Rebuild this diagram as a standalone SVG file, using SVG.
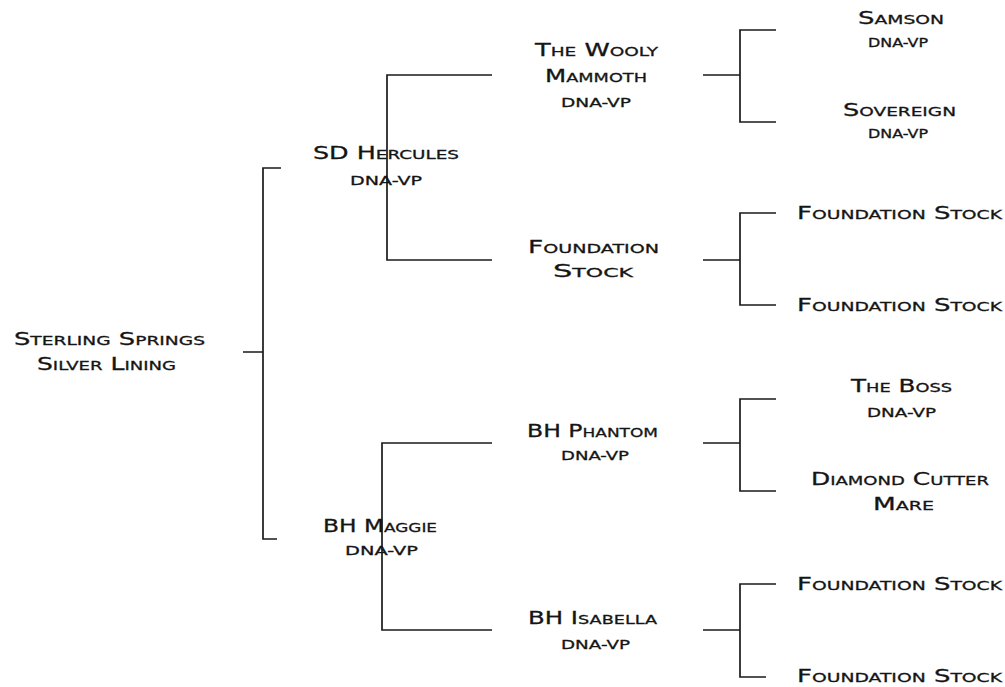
<svg xmlns="http://www.w3.org/2000/svg" width="1005" height="687" viewBox="0 0 1005 687">
<style>
.bg{fill:#ffffff}
.c path{fill:none;stroke:#1a1a1a;stroke-width:1.7}
text{font-family:"DejaVu Sans","Liberation Sans",sans-serif;font-variant:small-caps;fill:#151515;stroke:#151515;stroke-width:0.3;font-size:18px}
.s{font-size:13px}
.xs{font-size:12px}
</style>
<rect class="bg" x="0" y="0" width="1005" height="687"/>
<g class="c" id="connectors">
<path d="M243,352 H263 M281,168 H263 V539 H277"/>
<path d="M492,75 H387 V260 H492"/>
<path d="M492,443 H382 V630 H492"/>
<path d="M703,75 H740 M776,30 H740 V122 H776"/>
<path d="M703,260 H740 M776,213 H740 V305 H776"/>
<path d="M703,443 H740 M776,399 H740 V491 H776"/>
<path d="M703,630 H740 M776,584 H740 V677 H766"/>
</g>
<g id="n-sterling">
<text x="14" y="345" textLength="191" lengthAdjust="spacingAndGlyphs">Sterling Springs</text>
<text x="37" y="370" textLength="139" lengthAdjust="spacingAndGlyphs">Silver Lining</text>
</g>
<g id="n-hercules">
<text x="313" y="159" textLength="146" lengthAdjust="spacingAndGlyphs">SD Hercules</text>
<text class="s" x="350" y="185" textLength="72" lengthAdjust="spacingAndGlyphs">DNA-VP</text>
</g>
<g id="n-maggie">
<text x="323" y="532" textLength="114" lengthAdjust="spacingAndGlyphs">BH Maggie</text>
<text class="s" x="345" y="555" textLength="73" lengthAdjust="spacingAndGlyphs">DNA-VP</text>
</g>
<g id="n-wooly">
<text x="535" y="56" textLength="123" lengthAdjust="spacingAndGlyphs">The Wooly</text>
<text x="545" y="82" textLength="102" lengthAdjust="spacingAndGlyphs">Mammoth</text>
<text class="s" x="561" y="107" textLength="70" lengthAdjust="spacingAndGlyphs">DNA-VP</text>
</g>
<g id="n-foundation-mid">
<text x="528" y="253" textLength="131" lengthAdjust="spacingAndGlyphs">Foundation</text>
<text x="553" y="277" textLength="80" lengthAdjust="spacingAndGlyphs">Stock</text>
</g>
<g id="n-phantom">
<text x="527" y="437" textLength="131" lengthAdjust="spacingAndGlyphs">BH Phantom</text>
<text class="s" x="561" y="460" textLength="68" lengthAdjust="spacingAndGlyphs">DNA-VP</text>
</g>
<g id="n-isabella">
<text x="528" y="624" textLength="129" lengthAdjust="spacingAndGlyphs">BH Isabella</text>
<text class="s" x="561" y="649" textLength="69" lengthAdjust="spacingAndGlyphs">DNA-VP</text>
</g>
<g id="n-samson">
<text x="858" y="24" textLength="86" lengthAdjust="spacingAndGlyphs">Samson</text>
<text class="xs" x="868" y="47" textLength="60" lengthAdjust="spacingAndGlyphs">DNA-VP</text>
</g>
<g id="n-sovereign">
<text x="843" y="116" textLength="113" lengthAdjust="spacingAndGlyphs">Sovereign</text>
<text class="xs" x="868" y="138" textLength="60" lengthAdjust="spacingAndGlyphs">DNA-VP</text>
</g>
<g id="n-fs1">
<text x="797" y="219" textLength="205" lengthAdjust="spacingAndGlyphs">Foundation Stock</text>
</g>
<g id="n-fs2">
<text x="797" y="311" textLength="205" lengthAdjust="spacingAndGlyphs">Foundation Stock</text>
</g>
<g id="n-boss">
<text x="851" y="392" textLength="101" lengthAdjust="spacingAndGlyphs">The Boss</text>
<text class="s" x="867" y="417" textLength="69" lengthAdjust="spacingAndGlyphs">DNA-VP</text>
</g>
<g id="n-diamond">
<text x="811" y="485" textLength="178" lengthAdjust="spacingAndGlyphs">Diamond Cutter</text>
<text x="873" y="510" textLength="61" lengthAdjust="spacingAndGlyphs">Mare</text>
</g>
<g id="n-fs3">
<text x="797" y="590" textLength="205" lengthAdjust="spacingAndGlyphs">Foundation Stock</text>
</g>
<g id="n-fs4">
<text x="797" y="682" textLength="205" lengthAdjust="spacingAndGlyphs">Foundation Stock</text>
</g>
</svg>
